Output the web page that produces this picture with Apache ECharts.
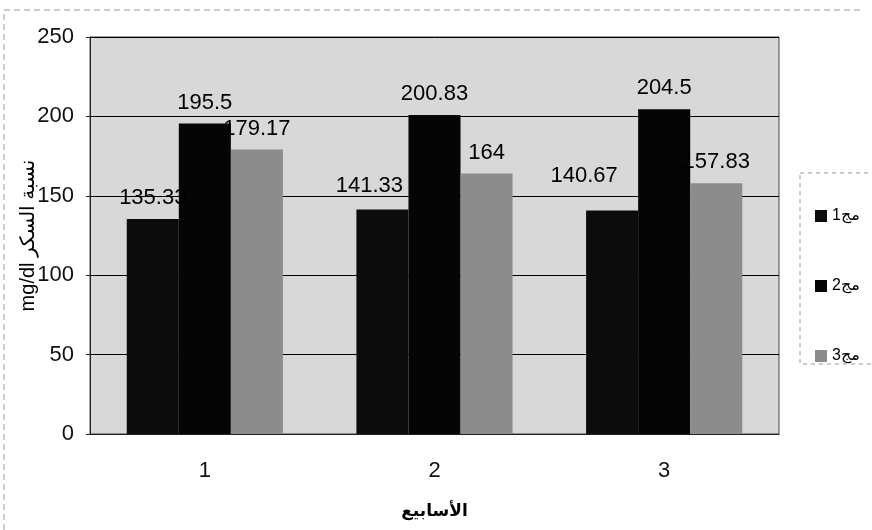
<!DOCTYPE html>
<html>
<head>
<meta charset="utf-8">
<script src="https://cdn.jsdelivr.net/npm/echarts@6/dist/echarts.min.js"></script>
<style>
  html, body { margin: 0; padding: 0; background: #fff; }
  #chart { width: 872px; height: 530px; }
</style>
</head>
<body>
<div id="chart"></div>
<script>
// weeks on the x axis
const weeks = ['1', '2', '3'];
// blood sugar per group (mg/dl)
const group1 = [135.33, 141.33, 140.67];
const group2 = [195.5, 200.83, 204.5];
const group3 = [179.17, 164, 157.83];
// LRM keeps the digit on the left of the word, as in the original legend
const seriesNames = ['1\u200Eمج', '2\u200Eمج', '3\u200Eمج'];

const FONT = '"Liberation Sans", "DejaVu Sans", Arial, sans-serif';

const chart = echarts.init(document.getElementById('chart'), null, { renderer: 'canvas' });

// excel moved a few labels of the first group by hand
const group1LabelShift = [[0, 0], [-13, -3], [-28, -14]];

const labelStyle = {
  show: true,
  position: 'top',
  distance: 10,
  color: '#000',
  fontSize: 22,
  fontFamily: FONT
};

const option = {
  animation: false,
  backgroundColor: '#fff',
  textStyle: { fontFamily: FONT },
  grid: {
    left: 90, right: 93, top: 37, bottom: 96,
    show: true,
    backgroundColor: '#d8d8d8',
    borderColor: '#444',
    borderWidth: 1
  },
  legend: {
    orient: 'vertical',
    left: 810,
    top: 203,
    itemWidth: 12,
    itemHeight: 12,
    itemGap: 54,
    icon: 'rect',
    textStyle: { fontSize: 16, color: '#000', fontFamily: FONT },
    data: seriesNames
  },
  xAxis: {
    type: 'category',
    data: weeks,
    name: 'الأسابيع',
    nameLocation: 'middle',
    nameGap: 69,
    nameMoveOverlap: false,
    nameTextStyle: { fontSize: 17, color: '#000', fontFamily: FONT, fontWeight: 'bold' },
    axisLine: { lineStyle: { color: '#222' } },
    axisTick: { show: false },
    axisLabel: { fontSize: 22, color: '#111', margin: 26 }
  },
  yAxis: {
    type: 'value',
    min: 0,
    max: 250,
    interval: 50,
    name: 'mg/dl نسبة السكر',
    nameLocation: 'middle',
    nameGap: 52,
    nameMoveOverlap: false,
    nameTextStyle: { fontSize: 20, color: '#000', fontFamily: FONT },
    axisLine: { show: true, lineStyle: { color: '#222' } },
    axisTick: { show: true, length: 4, lineStyle: { color: '#222' } },
    axisLabel: { fontSize: 22, color: '#111', margin: 16 },
    splitLine: { lineStyle: { color: '#000', width: 1 } }
  },
  series: [
    {
      name: seriesNames[0],
      type: 'bar',
      barGap: '0%',
      barCategoryGap: '32%',
      itemStyle: { color: '#0c0c0c' },
      label: labelStyle,
      data: group1.map((v, i) => ({
        value: v,
        label: { offset: group1LabelShift[i] }
      }))
    },
    {
      name: seriesNames[1],
      type: 'bar',
      barGap: '0%',
      barCategoryGap: '32%',
      itemStyle: { color: '#050505' },
      label: labelStyle,
      data: group2
    },
    {
      name: seriesNames[2],
      type: 'bar',
      barGap: '0%',
      barCategoryGap: '32%',
      itemStyle: { color: '#8c8c8c' },
      label: labelStyle,
      data: group3
    }
  ],
  graphic: [
    {
      type: 'polyline',
      silent: true,
      shape: { points: [[4, 530], [4, 10], [862, 10]] },
      style: { stroke: '#9a9a9a', fill: null, lineWidth: 1, lineDash: [6, 4] }
    },
    {
      type: 'rect',
      silent: true,
      shape: { x: 800, y: 173, width: 80, height: 191 },
      style: { stroke: '#9a9a9a', fill: null, lineWidth: 1, lineDash: [4, 4] }
    }
  ]
};

chart.setOption(option);
</script>
</body>
</html>
